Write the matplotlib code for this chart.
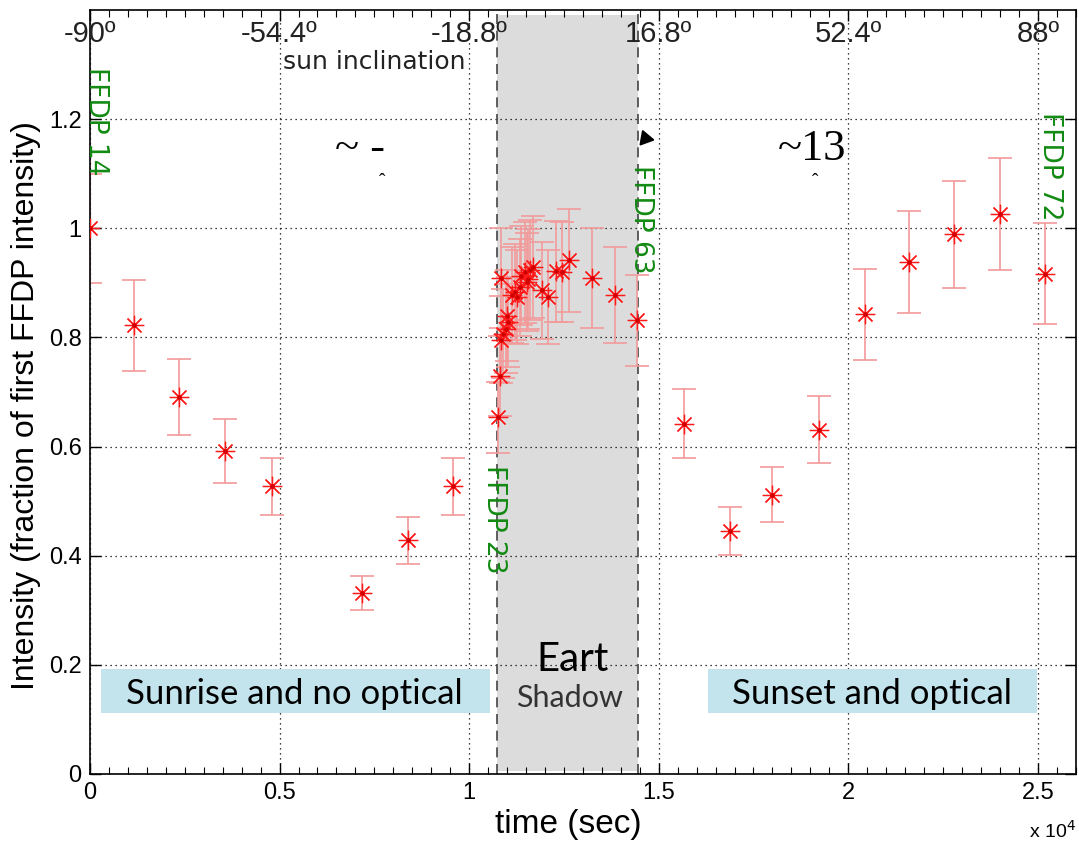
import matplotlib
matplotlib.use('Agg')
import matplotlib.pyplot as plt
from matplotlib.patches import Rectangle
import numpy as np

# data (time in s, intensity as fraction of first FFDP)
times = [0, 1150, 2360, 3570, 4790, 7180, 8380, 9580,
         10770, 10810, 10830, 10850, 10900, 10970, 10990, 11030, 11120,
         11210, 11250, 11340, 11380, 11470, 11520, 11560, 11600, 11690,
         11910, 12090, 12290, 12460, 12640, 13230, 13840, 14430,
         15660, 16870, 18000, 19240, 20450, 21600, 22800, 24000, 25200]
intensity = [1.0, 0.822, 0.691, 0.592, 0.527, 0.332, 0.428, 0.527,
             0.654, 0.729, 0.909, 0.796, 0.807, 0.816, 0.840, 0.828, 0.877,
             0.883, 0.874, 0.892, 0.913, 0.919, 0.901, 0.907, 0.923, 0.929,
             0.886, 0.874, 0.921, 0.920, 0.941, 0.909, 0.877, 0.831,
             0.642, 0.446, 0.512, 0.631, 0.842, 0.938, 0.989, 1.026, 0.917]
errors = [0.100, 0.083, 0.069, 0.058, 0.052, 0.031, 0.043, 0.052,
          0.065, 0.073, 0.091, 0.080, 0.081, 0.082, 0.084, 0.083, 0.088,
          0.088, 0.087, 0.089, 0.091, 0.092, 0.090, 0.091, 0.092, 0.093,
          0.089, 0.087, 0.092, 0.092, 0.094, 0.091, 0.088, 0.083,
          0.063, 0.044, 0.051, 0.062, 0.083, 0.093, 0.098, 0.102, 0.092]

x_ticks = [0, 5000, 10000, 15000, 20000, 25000]
x_ticklabels = ['0', '0.5', '1', '1.5', '2', '2.5']
y_ticks = [0, 0.2, 0.4, 0.6, 0.8, 1.0, 1.2]
y_ticklabels = ['0', '0.2', '0.4', '0.6', '0.8', '1', '1.2']
sun_labels = ['-90º', '-54.4º', '-18.8º', '16.8º', '52.4º', '88º']

shadow_start = 10740
shadow_end = 14450

ffdp_labels = ['FFDP 14', 'FFDP 23', 'FFDP 63', 'FFDP 72']
ffdp_x = [150, 10650, 14540, 25316]
ffdp_y = [1.295, 0.567, 1.116, 1.213]

# region boxes: (x0, x1, y0, y1) and label
boxes = [(290, 10550, 0.111, 0.192), (16300, 24970, 0.111, 0.192)]
box_texts = ['Sunrise and no optical', 'Sunset and optical']
box_text_x = [5400, 20620]

GREEN = '#128a12'
SANS = ['Liberation Sans', 'DejaVu Sans']
BOXFONT = ['Lato', 'DejaVu Sans']

fig = plt.figure(figsize=(10.79, 8.41), dpi=100)
ax = fig.add_axes([0.0834, 0.0797, 0.9136, 0.9085])

ax.axvspan(shadow_start, shadow_end, ymin=0.004, ymax=0.993,
           color='#dcdcdc', zorder=0.2, lw=0)
for xv in (shadow_start, shadow_end):
    ax.axvline(xv, color='#444444', ls=(0, (6, 4)), lw=1.2, zorder=0.6)

ax.errorbar(times, intensity, yerr=errors, fmt='none', ecolor='#f29a9a',
            elinewidth=1.2, capsize=8.5, capthick=1.2, zorder=2)
ax.plot(times, intensity, ls='none', marker=(8, 2, 0), ms=14, mew=0.9,
        color='#ff1a1a', zorder=3)
ax.plot(times, intensity, ls='none', marker='o', ms=2.2, color='#d00000',
        zorder=4)

ax.set_xlim(0, 26000)
ax.set_ylim(0, 1.4)
ax.set_xticks(x_ticks)
ax.set_xticklabels(x_ticklabels)
ax.set_xticks(np.arange(0, 26001, 500), minor=True)
ax.set_yticks(y_ticks)
ax.set_yticklabels(y_ticklabels)
ax.tick_params(axis='both', which='major', direction='in', length=8,
               width=1, top=True, right=True, labelsize=17, pad=6)
ax.tick_params(axis='x', which='minor', direction='in', length=5,
               width=0.8, top=True)
for lab in ax.get_xticklabels() + ax.get_yticklabels():
    lab.set_family(SANS)
ax.grid(True, which='major', color='black', ls=(0, (1, 3)), lw=0.9)
ax.set_axisbelow(True)
for sp in ax.spines.values():
    sp.set_linewidth(1.2)

ax.set_xlabel('time (sec)', fontsize=24, family=SANS)
ax.xaxis.set_label_coords(0.485, -0.046)
ax.set_ylabel('Intensity (fraction of first FFDP intensity)', fontsize=23,
              family=SANS)
ax.yaxis.set_label_coords(-0.05, 0.482)
ax.text(1.0, -0.075, r'x 10$^4$', transform=ax.transAxes, fontsize=14,
        ha='right', va='center', family=SANS)

# sun inclination labels along the top, inside the frame
for xv, lab in zip(x_ticks, sun_labels):
    ax.text(xv, 0.969, lab, transform=ax.get_xaxis_transform(), ha='center',
            va='center', fontsize=21, family=SANS, color='#222222')
ax.text(7500, 1.305, 'sun inclination', ha='center', va='center', fontsize=18,
        color='#222222')

for lab, xv, yv in zip(ffdp_labels, ffdp_x, ffdp_y):
    ax.text(xv, yv, lab, rotation=270, ha='center', va='top', fontsize=19,
            color=GREEN)

# leftover fragments of the overlay text
ax.text(7120, 1.145, '~ -', ha='center', va='center', fontsize=32,
        family='Liberation Serif', color='black')
ax.text(19040, 1.145, '~13', ha='center', va='center', fontsize=32,
        family='Liberation Serif', color='black')
ax.text(7710, 1.085, 'ˆ', ha='center', va='center', fontsize=14,
        family='Liberation Serif')
ax.text(19120, 1.085, 'ˆ', ha='center', va='center', fontsize=14,
        family='Liberation Serif')
arrow_x, arrow_y = 14640, 1.165
ax.plot([arrow_x], [arrow_y], ls='none', marker=(3, 0, -100), ms=12,
        color='black', zorder=5)

# region boxes
for (x0, x1, y0, y1), lab, tx in zip(boxes, box_texts, box_text_x):
    ax.add_patch(Rectangle((x0, y0), x1 - x0, y1 - y0, fc='#c3e4ed',
                           ec='none', zorder=3))
    ax.text(tx, 0.129, lab, ha='center', va='baseline', fontsize=25,
            family=BOXFONT, zorder=4)
ax.text(12740, 0.188, 'Eart', ha='center', va='baseline', fontsize=29,
        family=BOXFONT)
ax.text(12640, 0.123, 'Shadow', ha='center', va='baseline', fontsize=22,
        family=BOXFONT, color='#333333')

fig.savefig('out.png', dpi=100)
